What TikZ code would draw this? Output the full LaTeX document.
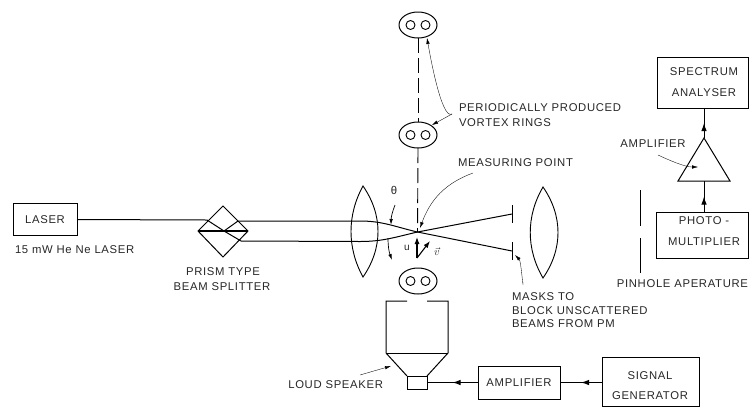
\documentclass[tikz,border=0pt]{standalone}
\usepackage{fontspec}
\setmainfont[LetterSpace=6]{Liberation Sans}
\usetikzlibrary{arrows.meta,shapes.geometric,decorations.markings}
\tikzset{
  label/.style={font=\fontsize{11.3}{12}\selectfont, inner sep=0pt, outer sep=0pt, text=black!85},
  unit/.style={draw, line width=1pt, inner sep=0pt, outer sep=0pt, align=center},
  ring/.style={draw, ellipse, line width=1pt, inner sep=0pt, outer sep=0pt, minimum width=38pt, minimum height=26pt},
  hole/.style={draw, circle, line width=0.9pt, inner sep=0pt, outer sep=0pt, minimum size=9pt},
  beam/.style={line width=1pt},
  lens/.style={line width=0.9pt},
  leader/.style={line width=0.35pt, -{Latex[length=6pt,width=3.5pt]}},
  feed/.style={line width=1pt, postaction={decorate}, decoration={markings,
    mark=at position 0.5 with {\arrow{Latex[length=8pt,width=5.5pt]}}}},
  veloc/.style={line width=1.1pt, -{Latex[length=7pt,width=5pt]}},
}
\begin{document}
\begin{tikzpicture}[x=1pt, y=-1pt, line width=1pt]
  \useasboundingbox (0,0) rectangle (749,408);
  % boxes
  \node[unit, minimum width=64pt, minimum height=32pt] (laser) at (45,219) {};
  \node[unit, minimum width=82pt, minimum height=33pt] (ampbox) at (519,382.5) {};
  \node[unit, minimum width=97pt, minimum height=49pt] (siggen) at (650.5,381.5) {};
  \node[unit, minimum width=91pt, minimum height=51pt] (spectrum) at (702.5,82.5) {};
  \node[unit, minimum width=92pt, minimum height=46pt] (photo) at (702,235) {};
  \node[unit, minimum width=20pt, minimum height=13pt] (cone) at (417,382.5) {};
  \node[label] at (45,220) {LASER};
  \node[label] at (ampbox) {AMPLIFIER};
  \node[label] at (650,376) {SIGNAL};
  \node[label] at (650,396) {GENERATOR};
  \node[label] at (704,72) {SPECTRUM};
  \node[label] at (704,93) {ANALYSER};
  \node[label] at (704,221) {PHOTO -};
  \node[label] at (704,242) {MULTIPLIER};
  % vortex rings
  \foreach \name/\yy in {ringa/25, ringb/135, ringc/281} {
    \node[ring] (\name) at (418,\yy) {};
    \node[hole] at (410.5,\yy) {};
    \node[hole] at (425.5,\yy) {};
  }
  \coordinate (cross) at (417.5,232);
  \draw[line width=0.9pt, dash pattern=on 15pt off 5pt] (ringa.south) -- (ringb.north);
  \draw[line width=0.9pt, dash pattern=on 15pt off 5pt] (ringb.south) -- (cross);
  % prism
  \draw[line width=1pt] (198,231) -- (223,206) -- (248,231) -- (223,257) -- cycle;
  \draw[line width=1.4pt] (198,231) -- (248,231);
  \coordinate (split) at (224,231);
  \coordinate (pin) at (207,220);
  \coordinate (pup) at (238,221);
  \coordinate (pdn) at (241,241);
  \draw[beam] (laser.east |- 0,219.5) -- (pin) -- (split) -- (pup);
  \draw[beam] (split) -- (pdn);
  % beams through the lens
  \draw[beam] (pup) -- (360,221) to[out=0,in=167] (cross) -- (512,251);
  \draw[beam] (pdn) -- (360,241.5) to[out=0,in=193] (cross) -- (512,214);
  % lenses and masks
  \draw[lens] (363,186) .. controls (347,215) and (347,248) .. (363,277) .. controls (383,248) and (383,215) .. cycle;
  \draw[lens] (543,187) .. controls (526,216) and (526,249) .. (543,278) .. controls (563,249) and (563,216) .. cycle;
  \draw[line width=1pt] (512,205) -- (512,223);
  \draw[line width=1pt] (512,242) -- (512,260);
  % velocities
  \coordinate (vo) at (417,258);
  \draw[veloc] (vo) -- (417,237);
  \draw[veloc] (vo) -- (430,241);
  \node[label, font=\fontsize{10}{10}\selectfont] at (407,248) {u};
  \node[label, font=\fontsize{11}{11}\selectfont] at (437,252) {$\vec{v}$};
  % angle
  \node[label] at (394,190) {θ};
  \draw[line width=0.7pt, -{Latex[length=6pt,width=3.5pt]}] (395,205) to[bend right=10] (391,225);
  \draw[line width=0.7pt, -{Latex[length=6pt,width=3.5pt]}] (388,238) to[bend right=10] (392,260);
  % speaker
  \draw[line width=1pt] (407,301) -- (386,301) -- (386,353) -- (cone.north west);
  \draw[line width=1pt] (427,301) -- (448,301) -- (448,353) -- (cone.north east);
  \draw[line width=1pt] (386,353) -- (448,353);
  % signal path
  \draw[feed] (ampbox.west) -- (cone.east);
  \draw[feed] (siggen.west |- ampbox.east) -- (ampbox.east);
  % right hand column
  \coordinate (triapex) at (704,138);
  \coordinate (trileft) at (678,181);
  \coordinate (triright) at (730,181);
  \draw[line width=1pt] (triapex) -- (trileft) -- (triright) -- cycle;
  \draw[feed] (triapex) -- (spectrum.south -| triapex);
  \draw[feed] (photo.north -| triapex) -- (triapex |- trileft);
  \draw[line width=1pt] (640,190) -- (640,226);
  \draw[line width=1pt] (640,238) -- (640,273);
  % text
  \node[label, anchor=west] at (15,250) {15 mW He Ne LASER};
  \node[label] at (223,272) {PRISM TYPE};
  \node[label] at (222,287) {BEAM SPLITTER};
  \node[label, anchor=west] (rings) at (459,108) {PERIODICALLY PRODUCED};
  \node[label, anchor=west] at (459,123) {VORTEX RINGS};
  \node[label, anchor=west] (point) at (458,163) {MEASURING POINT};
  \node[label, anchor=west] at (512,297) {MASKS TO};
  \node[label, anchor=west] at (512,311) {BLOCK UNSCATTERED};
  \node[label, anchor=west] at (512,324) {BEAMS FROM PM};
  \node[label, anchor=east] at (383,385) {LOUD SPEAKER};
  \node[label] at (653,144) {AMPLIFIER};
  \node[label, anchor=east] at (748,284) {PINHOLE APERATURE};
  % leaders
  \coordinate (fork) at (452,114);
  \draw[leader] (fork) to[out=-150,in=-80,looseness=0.4] (427,38);
  \draw[leader] (fork) -- (432,125);
  \draw[leader] (473,173) to[out=200,in=70] (420,228);
  \draw[leader] (523,282) to[out=-90,in=-45,looseness=0.8] (515,255);
  \draw[leader] (360,375) -- (391,366);
  \draw[leader] (658,155) to[out=-25,in=180,looseness=0.8] (698,167);
\end{tikzpicture}
\end{document}
